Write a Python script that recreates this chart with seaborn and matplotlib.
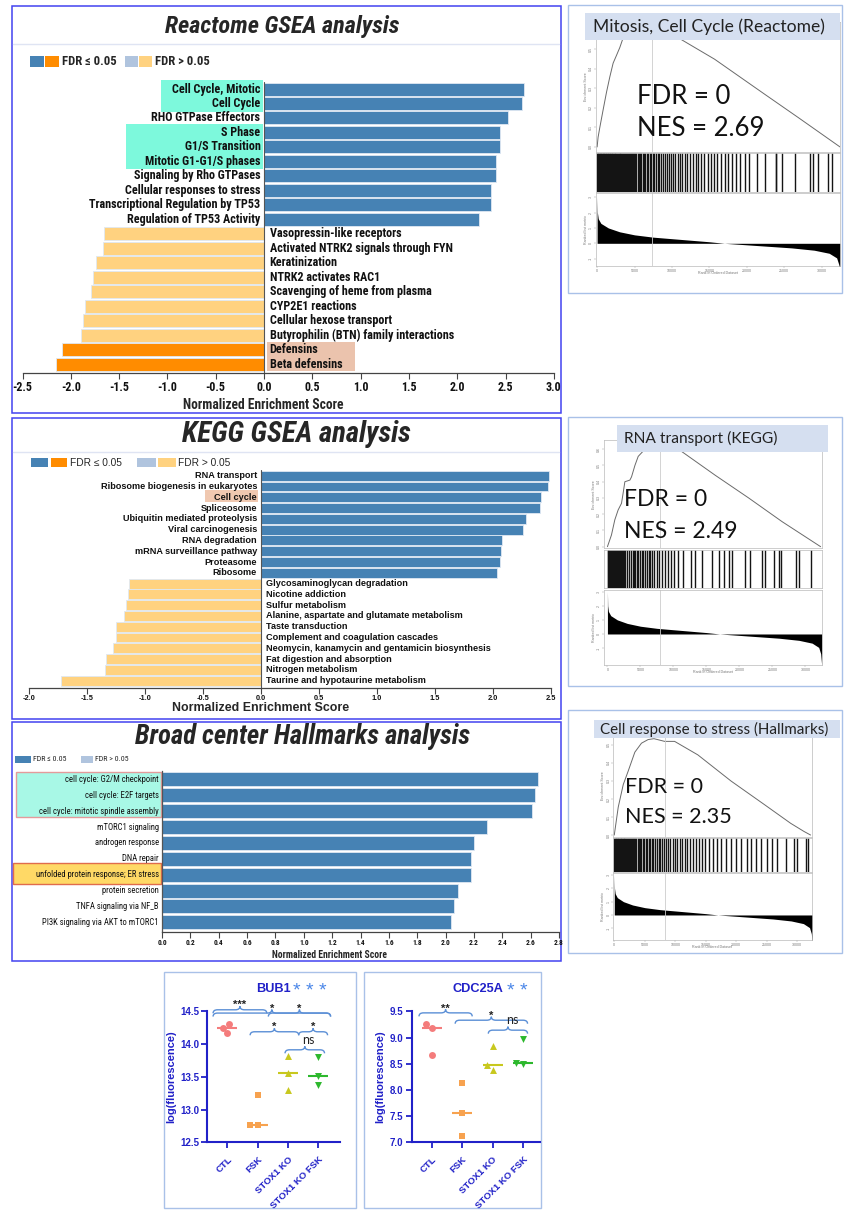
import numpy as np
import pandas as pd
import matplotlib
matplotlib.use("Agg")
import matplotlib.pyplot as plt
import seaborn as sns
from matplotlib import font_manager
from matplotlib.patches import Rectangle, PathPatch
from matplotlib.path import Path

# ---------------------------------------------------------------- data
reactome_terms = [
    "Cell Cycle, Mitotic", "Cell Cycle", "RHO GTPase Effectors", "S Phase",
    "G1/S Transition", "Mitotic G1-G1/S phases", "Signaling by Rho GTPases",
    "Cellular responses to stress", "Transcriptional Regulation by TP53",
    "Regulation of TP53 Activity", "Vasopressin-like receptors",
    "Activated NTRK2 signals through FYN", "Keratinization", "NTRK2 activates RAC1",
    "Scavenging of heme from plasma", "CYP2E1 reactions", "Cellular hexose transport",
    "Butyrophilin (BTN) family interactions", "Defensins", "Beta defensins"]
reactome_nes = [2.69, 2.67, 2.53, 2.44, 2.44, 2.40, 2.40, 2.35, 2.35, 2.23,
                -1.66, -1.67, -1.74, -1.77, -1.79, -1.85, -1.87, -1.89, -2.09, -2.15]
reactome_sig = [True] * 10 + [False] * 8 + [True] * 2

kegg_terms = [
    "RNA transport", "Ribosome biogenesis in eukaryotes", "Cell cycle", "Spliceosome",
    "Ubiquitin mediated proteolysis", "Viral carcinogenesis", "RNA degradation",
    "mRNA surveillance pathway", "Proteasome", "Ribosome",
    "Glycosaminoglycan degradation", "Nicotine addiction", "Sulfur metabolism",
    "Alanine, aspartate and glutamate metabolism", "Taste transduction",
    "Complement and coagulation cascades",
    "Neomycin, kanamycin and gentamicin biosynthesis", "Fat digestion and absorption",
    "Nitrogen metabolism", "Taurine and hypotaurine metabolism"]
kegg_nes = [2.49, 2.48, 2.42, 2.41, 2.29, 2.26, 2.08, 2.07, 2.06, 2.04,
            -1.14, -1.15, -1.17, -1.18, -1.25, -1.25, -1.28, -1.34, -1.35, -1.73]
kegg_sig = [True] * 10 + [False] * 10

hallmark_terms = [
    "cell cycle: G2/M checkpoint", "cell cycle: E2F targets",
    "cell cycle: mitotic spindle assembly", "mTORC1 signaling", "androgen response",
    "DNA repair", "unfolded protein response; ER stress", "protein secretion",
    "TNFA signaling via NF_B", "PI3K signaling via AKT to mTORC1"]
hallmark_nes = [2.65, 2.63, 2.61, 2.29, 2.20, 2.18, 2.18, 2.09, 2.06, 2.04]
hallmark_sig = [True] * 10

# running enrichment scores and gene-set hits
reactome_es_rank = [0, 130, 360, 800, 1250, 1700, 2140, 2590, 3030, 3480, 3920, 4600,
                    5500, 7300, 10400, 15700, 22400, 26900, 32450]
reactome_es = [0.0, 0.05, 0.10, 0.19, 0.28, 0.36, 0.43, 0.47, 0.51, 0.56, 0.59, 0.62,
               0.63, 0.61, 0.57, 0.45, 0.27, 0.15, 0.0]
reactome_hits = [20, 90, 170, 240, 330, 410, 480, 570, 650, 720, 810, 900, 980, 1060, 1150,
                 1240, 1330, 1400, 1490, 1580, 1680, 1770, 1850, 1950, 2040, 2150, 2250,
                 2330, 2440, 2560, 2650, 2760, 2880, 2990, 3100, 3210, 3330, 3460, 3570,
                 3700, 3830, 3940, 4080, 4220, 4350, 4490, 4640, 4780, 4930, 5090, 5240,
                 5400, 5570, 5730, 5900, 6080, 6250, 6440, 6620, 6810, 7010, 7210, 7420,
                 7640, 7860, 8090, 8320, 8560, 8810, 9070, 9330, 9600, 9880, 10170, 10460,
                 10770, 11080, 11400, 11730, 12070, 12420, 12780, 13150, 13530, 13920,
                 14330, 14750, 15180, 15620, 16080, 16550, 17030, 17530, 18050, 18580,
                 19130, 19700, 20300, 21310, 22430, 23850, 23950, 24650, 26440, 28440,
                 28890, 29560, 30900, 31430]

kegg_es_rank = [0, 610, 1115, 1620, 2130, 2380, 2640, 3400, 3650, 4160, 4660, 5680, 8720,
                11250, 16320, 21390, 26460, 32290]
kegg_es = [0.0, 0.072, 0.165, 0.226, 0.267, 0.33, 0.40, 0.41, 0.43, 0.50, 0.556, 0.60,
           0.617, 0.586, 0.44, 0.30, 0.154, 0.0]
kegg_hits = [30, 160, 300, 420, 560, 700, 830, 980, 1100, 1250, 1400, 1530, 1700, 1850,
             2000, 2180, 2350, 2500, 2700, 2900, 3300, 3550, 3800, 4000, 4250, 4450, 4700,
             4950, 5200, 5450, 5700, 5950, 6250, 6500, 6800, 7100, 7450, 7800, 8200, 8650,
             9100, 9600, 10100, 10700, 11500, 12670, 13280, 14290, 15810, 16830, 17590,
             18350, 18850, 20880, 21640, 23420, 23920, 25190, 25950, 26360, 28490, 28990,
             30770]

hallmark_es_rank = [0, 650, 1470, 2280, 3370, 4460, 5540, 6500, 8260, 9890, 13700, 19130,
                    24565, 28913, 31087, 32170]
hallmark_es = [0.0, 0.155, 0.28, 0.355, 0.46, 0.51, 0.53, 0.535, 0.52, 0.52, 0.445, 0.30,
               0.17, 0.065, 0.02, 0.0]
hallmark_hits = [20, 120, 230, 330, 450, 560, 680, 790, 900, 1030, 1150, 1280, 1400, 1540,
                 1670, 1810, 1960, 2100, 2260, 2410, 2570, 2740, 2900, 3080, 3260, 3440,
                 3630, 3820, 4020, 4230, 4440, 4660, 4890, 5120, 5360, 5610, 5860, 6120,
                 6390, 6670, 6950, 7250, 7550, 7860, 8180, 8510, 8850, 9200, 9560, 9930,
                 10310, 10700, 11100, 11520, 11950, 12400, 12850, 13330, 13820, 14330,
                 14900, 15500, 16100, 16800, 17500, 18300, 19100, 19900, 20800, 21700,
                 22400, 23200, 24000, 25100, 25900, 26700, 28100, 29500, 30000, 31400,
                 31750]

metric_rank = [0, 40, 150, 500, 1500, 3000, 5000, 7500, 10000, 12500, 15000, 17000, 20000,
               23000, 26000, 29000, 31000, 32000, 32300, 32450]
metric_value = [3.0, 2.0, 1.6, 1.3, 1.0, 0.75, 0.55, 0.4, 0.3, 0.2, 0.1, 0.0, -0.1, -0.2,
                -0.3, -0.45, -0.65, -0.95, -1.4, -2.2]

leading_edge = [7300, 7950, 8270]
gsea_titles = ["Mitosis, Cell Cycle (Reactome)", "RNA transport (KEGG)",
               "Cell response to stress (Hallmarks)"]
gsea_fdr = [0, 0, 0]
gsea_nes = [2.69, 2.49, 2.35]

# expression of two genes per condition
groups = ["CTL", "FSK", "STOX1 KO", "STOX1 KO FSK"]
bub1 = {"CTL": [14.30, 14.25, 14.17], "FSK": [13.22, 12.76, 12.76],
        "STOX1 KO": [13.82, 13.55, 13.30], "STOX1 KO FSK": [13.80, 13.51, 13.38]}
cdc25a = {"CTL": [9.26, 9.18, 8.67], "FSK": [8.14, 7.55, 7.12],
          "STOX1 KO": [8.84, 8.47, 8.38], "STOX1 KO FSK": [8.97, 8.51, 8.49]}
bub1_tests = [(-0.47, 1.3, 14.52, "***"), (-0.47, 3.4, 14.47, "*"), (1.35, 3.4, 14.47, "*"),
              (0.75, 2.35, 14.185, "*"), (2.35, 3.3, 14.185, "*"), (1.9, 3.2, 13.91, "ns")]
cdc25a_tests = [(-0.42, 1.33, 9.47, "**"), (0.77, 3.15, 9.33, "*"), (1.86, 3.15, 9.14, "ns")]

# ---------------------------------------------------------------- style
sns.set_theme(style="white")
plt.rcParams["font.family"] = ["Liberation Sans", "DejaVu Sans"]
plt.rcParams["axes.unicode_minus"] = False

_have = {f.name for f in font_manager.fontManager.ttflist}
_narrow = [("Liberation Sans Narrow", 1.0), ("DejaVu Sans Condensed", 0.84),
           ("Roboto Condensed", 0.93), ("Open Sans Condensed", 0.9)]
NARROW, NK = next(((n, k) for n, k in _narrow if n in _have), ("Liberation Sans", 0.82))
NF = [NARROW, "DejaVu Sans"]
SF = ["Liberation Sans", "DejaVu Sans"]
CF = ["Lato", "DejaVu Sans"]

C_BLUE, C_LBLUE, C_ORANGE, C_LORANGE = "#4682b4", "#b0c4de", "#ff8c00", "#ffd280"
FRAME_BLUE = "#4343f0"
FRAME_LIGHT = "#a9c1e8"
AX_BLUE = "#2121c8"
BRACE = "#5b8fd6"
group_colors = ["#f47c7c", "#f7a24f", "#c8c81e", "#2db82d"]
group_markers = ["o", "s", "^", "v"]


def nes_colors(values, sig):
    return [(C_BLUE if s else C_LBLUE) if v >= 0 else (C_ORANGE if s else C_LORANGE)
            for v, s in zip(values, sig)]


W, H = 844, 1214
fig = plt.figure(figsize=(W / 100, H / 100), dpi=100)
fig.patch.set_facecolor("white")


def px_rect(x0, y0, x1, y1):
    return [x0 / W, 1 - y1 / H, (x1 - x0) / W, (y1 - y0) / H]


def sheet(z):
    a = fig.add_axes([0, 0, 1, 1], zorder=z)
    a.set_xlim(0, W)
    a.set_ylim(H, 0)
    a.axis("off")
    return a


under = sheet(0)


def box(a, x0, y0, x1, y1, **kw):
    a.add_patch(Rectangle((x0, y0), x1 - x0, y1 - y0, **kw))


# ---------------------------------------------------------------- panel frames
for y0, y1 in [(5.5, 412.5), (418, 719), (722, 961)]:
    box(under, 11.5, y0, 561, y1, fill=False, edgecolor=FRAME_BLUE, lw=1.1)
for y in (43.5, 451.5):
    under.plot([13, 559], [y, y], color="#dfe4f3", lw=1.0)
for x0, y0, x1, y1 in [(568, 5, 842, 293), (568, 417, 842, 686), (568, 710, 842, 953),
                       (164, 972, 356, 1208), (364, 972, 541, 1208)]:
    box(under, x0, y0, x1, y1, fill=False, edgecolor=FRAME_LIGHT, lw=1.0)

# titles
under.text(282, 26.7, "Reactome GSEA analysis", ha="center", va="center",
           fontsize=18.8 * NK, fontweight="bold", fontstyle="italic", fontfamily=NF)
under.text(296.5, 434.5, "KEGG GSEA analysis", ha="center", va="center",
           fontsize=22.3 * NK, fontweight="bold", fontstyle="italic", fontfamily=NF)
under.text(303, 737, "Broad center Hallmarks analysis", ha="center", va="center",
           fontsize=20.6 * NK, fontweight="bold", fontstyle="italic", fontfamily=NF)

# legends
box(under, 29.6, 56, 43.8, 66.7, color=C_BLUE, lw=0)
box(under, 44.9, 56, 58.8, 66.7, color=C_ORANGE, lw=0)
under.text(61.6, 61.5, "FDR ≤ 0.05", va="center", fontsize=9.8 * NK, fontweight="bold",
           fontfamily=NF)
box(under, 124.6, 56, 138.1, 66.7, color=C_LBLUE, lw=0)
box(under, 138.8, 56, 152.3, 66.7, color=C_LORANGE, lw=0)
under.text(155.2, 61.5, "FDR > 0.05", va="center", fontsize=9.8 * NK, fontweight="bold",
           fontfamily=NF)

box(under, 31.4, 458.3, 48.4, 466.7, color=C_BLUE, lw=0)
box(under, 50.9, 458.3, 66.9, 466.7, color=C_ORANGE, lw=0)
under.text(69.8, 462.5, "FDR ≤ 0.05", va="center", fontsize=7.3, fontfamily=SF)
box(under, 137, 458.3, 156, 466.7, color=C_LBLUE, lw=0)
box(under, 157.7, 458.3, 175.5, 466.7, color=C_LORANGE, lw=0)
under.text(178, 462.5, "FDR > 0.05", va="center", fontsize=7.3, fontfamily=SF)

box(under, 15.3, 756, 31.4, 762.7, color=C_BLUE, lw=0)
under.text(33.1, 759.4, "FDR ≤ 0.05", va="center", fontsize=6.1 * NK, fontfamily=NF)
box(under, 80.5, 756, 92.6, 762.7, color=C_LBLUE, lw=0)
under.text(95.4, 759.4, "FDR > 0.05", va="center", fontsize=6.1 * NK, fontfamily=NF)

# highlighted pathway names
box(under, 161.2, 80, 262.7, 111.7, color="#7df9dc", lw=0)
box(under, 125.7, 124.3, 262.7, 169.3, color="#7df9dc", lw=0)
box(under, 267, 341.7, 354.5, 370.7, color="#ebc3ad", lw=0)
box(under, 205, 490.3, 258, 502.3, color="#f0c8b0", lw=0)
box(under, 16.4, 771.7, 161.2, 817.3, facecolor="#a8f8e6", edgecolor="#e49b9b", lw=1.0)
box(under, 12.8, 863.3, 161.2, 884, facecolor="#ffd966", edgecolor="#e06c4c", lw=1.0)

# axis titles
under.text(263, 405, "Normalized Enrichment Score", ha="center", va="center",
           fontsize=10.5 * NK, fontweight="bold", fontfamily=NF)
under.text(261, 708, "Normalized Enrichment Score", ha="center", va="center",
           fontsize=8.9, fontweight="bold", fontfamily=SF)
under.text(330, 955, "Normalized Enrichment Score", ha="center", va="center",
           fontsize=7.5 * NK, fontweight="bold", fontfamily=NF)


# ---------------------------------------------------------------- NES bar panels
def nes_panel(rect, terms, nes, colors, xlim, ybottom, width, ticks, label_family,
              label_size, label_weight, pad_pos, pad_neg, tick_family, tick_size,
              zero_line=True, left_spine=False):
    ax = fig.add_axes(px_rect(*rect))
    ax.set_facecolor("none")
    df = pd.DataFrame({"term": terms, "nes": nes})
    sns.barplot(data=df, x="nes", y="term", hue="term", palette=dict(zip(terms, colors)),
                legend=False, orient="h", width=width, errorbar=None, saturation=1,
                edgecolor="#dfe8f3", linewidth=0.6, ax=ax)
    ax.set_xlim(*xlim)
    ax.set_ylim(ybottom, -0.5)
    ax.set_yticks([])
    ax.set_xlabel("")
    ax.set_ylabel("")
    for s in ("top", "right"):
        ax.spines[s].set_visible(False)
    ax.spines["left"].set_visible(left_spine)
    ax.spines["left"].set_color("#555555")
    ax.spines["left"].set_linewidth(0.9)
    ax.spines["bottom"].set_color("#444444")
    ax.spines["bottom"].set_linewidth(0.9)
    if zero_line:
        ax.axvline(0, color="#555555", lw=0.8, zorder=3)
    ax.set_xticks(ticks, labels=[f"{t:.1f}" for t in ticks], fontfamily=tick_family,
                  fontsize=tick_size, fontweight="bold")
    ax.tick_params(axis="x", bottom=True, length=4, width=0.8, color="#444444", pad=1.5,
                   labelcolor="#111111")
    for i, (term, v) in enumerate(zip(terms, nes)):
        if v >= 0:
            ax.text(-pad_pos, i, term, ha="right", va="center", fontsize=label_size,
                    fontweight=label_weight, fontfamily=label_family, color="#111111")
        else:
            ax.text(pad_neg, i, term, ha="left", va="center", fontsize=label_size,
                    fontweight=label_weight, fontfamily=label_family, color="#111111")
    return ax


nes_panel((22.5, 81.8, 553.8, 373), reactome_terms, reactome_nes,
          nes_colors(reactome_nes, reactome_sig), (-2.5, 3.0), 19.62, 0.9,
          np.arange(-2.5, 3.01, 0.5), NF, 9.4 * NK, "bold", 0.037, 0.058, NF, 9.3 * NK)
nes_panel((29.4, 470.3, 550.5, 687.7), kegg_terms, kegg_nes,
          nes_colors(kegg_nes, kegg_sig), (-2.0, 2.5), 19.65, 0.92,
          np.arange(-2.0, 2.51, 0.5), SF, 6.6, "bold", 0.035, 0.043, SF, 5.3)
nes_panel((162, 771.4, 559, 931.7), hallmark_terms, hallmark_nes,
          nes_colors(hallmark_nes, hallmark_sig), (0, 2.8), 9.59, 0.88,
          np.arange(0, 2.81, 0.2), NF, 6.7 * NK, "normal", 0.023, 0.023, NF, 5.7 * NK,
          zero_line=False, left_spine=True)


# ---------------------------------------------------------------- enrichment plots
def enrichment_plot(es_rect, hit_rect, rank_rect, xlim, es_ylim, metric_ylim,
                    es_rank, es_vals, hits, lead):
    tiny = dict(fontsize=2.6, color="#777777")
    frame = "#b9b9b9"

    ax_es = fig.add_axes(px_rect(*es_rect))
    sns.lineplot(x=es_rank, y=es_vals, color="#6a6a6a", lw=0.7, ax=ax_es)
    ax_es.axvline(lead, color="#cccccc", lw=0.6)
    ax_es.set_xlim(*xlim)
    ax_es.set_ylim(*es_ylim)
    ax_es.set_xticks([])
    yt = np.round(np.arange(0, es_ylim[1], 0.1), 1)
    ax_es.set_yticks(yt, labels=[f"{t:.1f}" for t in yt], rotation=90, va="center", **tiny)
    ax_es.tick_params(axis="y", left=True, length=1.2, width=0.3, pad=0.8, color="#999999")
    ax_es.set_ylabel("Enrichment Score", labelpad=1, **tiny)

    ax_hit = fig.add_axes(px_rect(*hit_rect))
    sns.rugplot(x=hits, height=1.0, color="#141414", lw=0.45, expand_margins=False,
                ax=ax_hit)
    ax_hit.set_xlim(*xlim)
    ax_hit.set_ylim(0, 1)
    ax_hit.set_xticks([])
    ax_hit.set_yticks([])

    ax_rk = fig.add_axes(px_rect(*rank_rect))
    ax_rk.fill_between(metric_rank, metric_value, 0, color="black", lw=0)
    ax_rk.axvline(lead, color="#cccccc", lw=0.6)
    ax_rk.set_xlim(*xlim)
    ax_rk.set_ylim(*metric_ylim)
    xt = np.arange(0, 30001, 5000)
    ax_rk.set_xticks(xt, labels=[str(t) for t in xt], **tiny)
    mt = np.arange(-1, 4)
    ax_rk.set_yticks(mt, labels=[str(t) for t in mt], rotation=90, va="center", **tiny)
    ax_rk.tick_params(axis="both", left=True, bottom=True, length=1.2, width=0.3, pad=0.8,
                      color="#999999")
    ax_rk.set_xlabel("Rank in Ordered Dataset", labelpad=-1.5, **tiny)
    ax_rk.set_ylabel("Ranked list metric", labelpad=1, **tiny)

    for a in (ax_es, ax_hit, ax_rk):
        a.set_facecolor("white")
        for s in a.spines.values():
            s.set_color(frame)
            s.set_linewidth(0.5)


enrichment_plot((596, 22, 840, 152), (596, 153, 840, 192), (596, 193, 840, 266),
                (-150, 32450), (-0.026, 0.641), (-1.48, 3.28),
                reactome_es_rank, reactome_es, reactome_hits, leading_edge[0])
enrichment_plot((604, 440, 822, 548.3), (604, 550, 822, 588.3), (604, 590, 822, 665),
                (-520, 32500), (-0.01, 0.657), (-2.2, 3.12),
                kegg_es_rank, kegg_es, kegg_hits, leading_edge[1])
enrichment_plot((613.3, 734, 811.7, 837), (613.3, 838.3, 811.7, 871.7),
                (613.3, 873.3, 811.7, 940), (-160, 32360), (-0.011, 0.561), (-1.88, 3.13),
                hallmark_es_rank, hallmark_es, hallmark_hits, leading_edge[2])


# ---------------------------------------------------------------- expression panels
def expression_panel(rect, values, ylim, yticks, xlim):
    ax = fig.add_axes(px_rect(*rect))
    ax.set_facecolor("none")
    long = pd.DataFrame([(g, v) for g in groups for v in values[g]],
                        columns=["group", "value"])
    for g, m, c in zip(groups, group_markers, group_colors):
        sns.swarmplot(data=long[long["group"] == g], x="group", y="value", order=groups,
                      marker=m, color=c, size=5.0, linewidth=0, ax=ax)
    med = long.groupby("group")["value"].median()
    for i, (g, c) in enumerate(zip(groups, group_colors)):
        ax.hlines(med[g], i - 0.33, i + 0.33, color=c, lw=1.5, zorder=1)
    ax.set_xlim(*xlim)
    ax.set_ylim(*ylim)
    for s in ("top", "right"):
        ax.spines[s].set_visible(False)
    for s in ("left", "bottom"):
        ax.spines[s].set_color(AX_BLUE)
        ax.spines[s].set_linewidth(1.5)
    ax.set_yticks(yticks, labels=[f"{t:.1f}" for t in yticks], fontsize=7,
                  fontweight="bold", color=AX_BLUE, fontfamily=SF)
    ax.set_xticks(range(len(groups)), labels=groups, rotation=45, ha="right",
                  rotation_mode="anchor", fontsize=6.8, fontweight="bold", color=AX_BLUE,
                  fontfamily=SF)
    ax.tick_params(axis="both", left=True, bottom=True, length=4, width=1.3,
                   color=AX_BLUE, pad=2)
    ax.tick_params(axis="x", pad=5)
    ax.set_xlabel("")
    ax.set_ylabel("log(fluorescence)", fontsize=8, fontweight="bold", color=AX_BLUE,
                  fontfamily=SF, labelpad=3)
    return ax


ax_bub1 = expression_panel((207.3, 1011.1, 340, 1142.3), bub1, (12.5, 14.5),
                           [12.5, 13.0, 13.5, 14.0, 14.5], (-0.66, 3.71))
ax_cdc = expression_panel((411.7, 1011.3, 540, 1142.3), cdc25a, (7.0, 9.5),
                          [7.0, 7.5, 8.0, 8.5, 9.0, 9.5], (-0.66, 3.56))

over = sheet(10)


def to_px(ax, x, y):
    d = ax.transData.transform((x, y))
    return over.transData.inverted().transform(d)


def curly(ax, x0, x1, level, label, hh=3.5, r=4.5):
    (px0, yb), (px1, _) = to_px(ax, x0, level), to_px(ax, x1, level)
    tip = (px0 + px1) / 2
    verts = [(px0, yb + hh), (px0, yb), (px0 + r, yb), (tip - r, yb), (tip, yb),
             (tip, yb - hh), (tip, yb), (tip + r, yb), (px1 - r, yb), (px1, yb),
             (px1, yb + hh)]
    codes = [Path.MOVETO, Path.CURVE3, Path.CURVE3, Path.LINETO, Path.CURVE3, Path.CURVE3,
             Path.CURVE3, Path.CURVE3, Path.LINETO, Path.CURVE3, Path.CURVE3]
    over.add_patch(PathPatch(Path(verts, codes), fill=False, edgecolor=BRACE, lw=1.0))
    if label == "ns":
        over.text(tip + 4, yb - hh - 0.5, label, ha="center", va="bottom", fontsize=9,
                  fontfamily=CF, color="#222222")
    else:
        over.text(tip, yb - hh + 4, label, ha="center", va="bottom", fontsize=8,
                  fontweight="bold", fontfamily=SF, color="#222222")


for t in bub1_tests:
    curly(ax_bub1, *t)
for t in cdc25a_tests:
    curly(ax_cdc, *t)

over.text(273, 989.5, "BUB1", ha="center", va="center", fontsize=9.2, fontweight="bold",
          color=AX_BLUE, fontfamily=SF)
over.text(310, 992, "* * *", ha="center", va="center", fontsize=14, color="#4a86e8",
          fontfamily=SF)
over.text(477.7, 989.5, "CDC25A", ha="center", va="center", fontsize=9.2,
          fontweight="bold", color=AX_BLUE, fontfamily=SF)
over.text(517, 992, "* *", ha="center", va="center", fontsize=14, color="#4a86e8",
          fontfamily=SF)

# enrichment plot headers and statistics
headers = [(585, 13, 840, 40, 593.3), (617, 425, 828, 452, 624), (594, 720, 840, 738.3, 600)]
header_size = [12.6, 11.2, 10.9]
stat_pos = [(636.7, 96.7, 128.3), (624, 500, 531.7), (625, 786.7, 816.7)]
stat_size = [18.5, 16.5, 15.5]
for (x0, y0, x1, y1, tx), title, hs, (sx, fy, ny), ss, fdr, nes in zip(
        headers, gsea_titles, header_size, stat_pos, stat_size, gsea_fdr, gsea_nes):
    box(over, x0, y0, x1, y1, color="#d5dff0", lw=0)
    over.text(tx, (y0 + y1) / 2, title, va="center", fontsize=hs, fontfamily=CF,
              color="#222222")
    over.text(sx, fy, f"FDR = {fdr}", va="center", fontsize=ss, fontfamily=CF,
              color="#111111")
    over.text(sx, ny, f"NES = {nes:.2f}", va="center", fontsize=ss, fontfamily=CF,
              color="#111111")

fig.savefig("out.png", dpi=100)
